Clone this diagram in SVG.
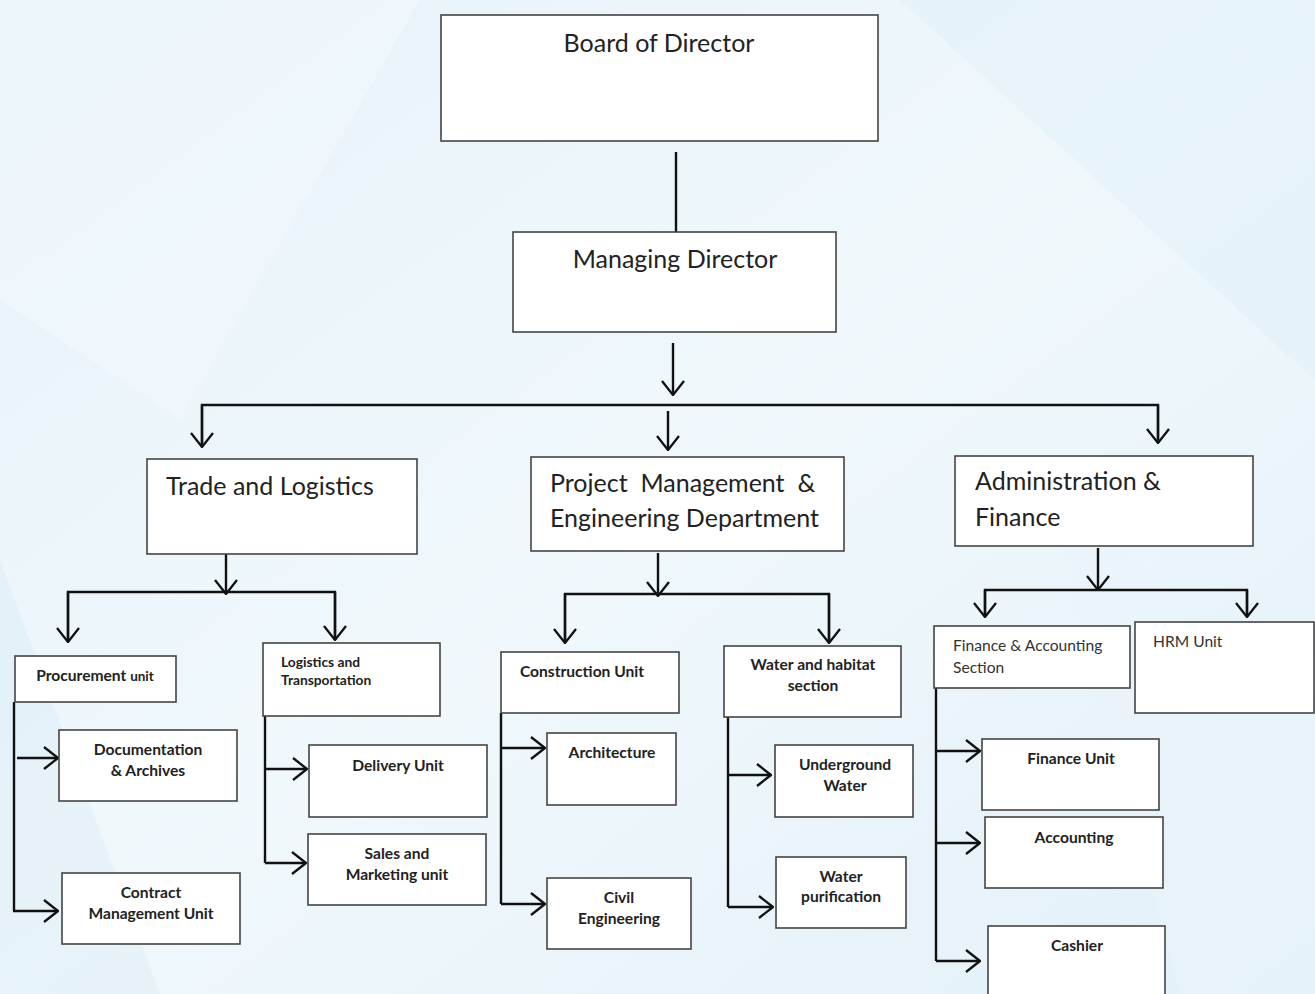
<svg xmlns="http://www.w3.org/2000/svg" width="1315" height="994" viewBox="0 0 1315 994">
<defs>
<linearGradient id="bg" x1="0" y1="0" x2="1" y2="1">
<stop offset="0" stop-color="#e6f2f9"/>
<stop offset="0.5" stop-color="#f0f8fc"/>
<stop offset="1" stop-color="#e3f0f8"/>
</linearGradient>
<marker id="ah" viewBox="0 0 16 24" refX="15" refY="12" markerWidth="16" markerHeight="24" markerUnits="userSpaceOnUse" orient="auto">
<path d="M1,1 L15,12 L1,23" fill="none" stroke="#111" stroke-width="2.3"/>
</marker>
<style>
.box{fill:#fff;stroke:#444;stroke-width:1.6}
.ln{fill:none;stroke:#111;stroke-width:2.4}
.ar{fill:none;stroke:#111;stroke-width:2.4;marker-end:url(#ah)}
.big{font-family:Lato,"Open Sans",sans-serif;font-size:25px;fill:#222}
.b{font-family:Lato,"Open Sans",sans-serif;font-size:15.6px;font-weight:bold;fill:#222;text-anchor:middle}
.bs{font-family:Lato,"Open Sans",sans-serif;font-size:13.8px;font-weight:bold;fill:#222}
.n{font-family:Lato,"Open Sans",sans-serif;font-size:15.6px;fill:#333}
</style>
</defs>
<rect width="1315" height="994" fill="url(#bg)"/>
<polygon points="0,0 420,0 180,420 0,300" fill="#f4fafd" opacity="0.5"/>
<polygon points="900,0 1315,0 1315,380" fill="#dcedf7" opacity="0.4"/>
<polygon points="0,560 160,994 0,994" fill="#d9ecf6" opacity="0.4"/>
<polygon points="1050,500 1315,700 1315,994 1180,994" fill="#eaf4f9" opacity="0.5"/>

<g id="connectors">
<line class="ln" x1="676" y1="152" x2="676" y2="232"/>
<line class="ar" x1="673" y1="343" x2="673" y2="395"/>
<polyline class="ln" points="202,447 202,405 1158,405 1158,443"/>
<line class="ar" x1="202" y1="405" x2="202" y2="447"/>
<line class="ar" x1="1158" y1="405" x2="1158" y2="443"/>
<line class="ar" x1="668" y1="411" x2="668" y2="450"/>

<line class="ar" x1="226" y1="554" x2="226" y2="594"/>
<polyline class="ln" points="68,642 68,592 335,592 335,640"/>
<line class="ar" x1="68" y1="592" x2="68" y2="642"/>
<line class="ar" x1="335" y1="592" x2="335" y2="640"/>
<polyline class="ln" points="14,702 14,911"/>
<line class="ar" x1="17" y1="758" x2="58" y2="758"/>
<line class="ar" x1="13" y1="911" x2="58" y2="911"/>
<polyline class="ln" points="265,716 265,863"/>
<line class="ar" x1="265" y1="769" x2="307" y2="769"/>
<line class="ar" x1="265" y1="863" x2="306" y2="863"/>

<line class="ar" x1="658" y1="553" x2="658" y2="596"/>
<polyline class="ln" points="565,643 565,594 829,594 829,643"/>
<line class="ar" x1="565" y1="594" x2="565" y2="643"/>
<line class="ar" x1="829" y1="594" x2="829" y2="643"/>
<polyline class="ln" points="501,713 501,904"/>
<line class="ar" x1="501" y1="748" x2="545" y2="748"/>
<line class="ar" x1="501" y1="904" x2="545" y2="904"/>
<polyline class="ln" points="728,717 728,907"/>
<line class="ar" x1="728" y1="775" x2="771" y2="775"/>
<line class="ar" x1="728" y1="907" x2="773" y2="907"/>

<line class="ar" x1="1098" y1="548" x2="1098" y2="590"/>
<polyline class="ln" points="985,617 985,590 1247,590 1247,617"/>
<line class="ar" x1="985" y1="590" x2="985" y2="617"/>
<line class="ar" x1="1247" y1="590" x2="1247" y2="617"/>
<polyline class="ln" points="936,688 936,961"/>
<line class="ar" x1="936" y1="751" x2="980" y2="751"/>
<line class="ar" x1="936" y1="843" x2="980" y2="843"/>
<line class="ar" x1="936" y1="961" x2="980" y2="961"/>
</g>

<g id="board"><rect class="box" x="441" y="15" width="437" height="126"/><text class="big" x="659" y="52" text-anchor="middle">Board of Director</text></g>
<g id="md"><rect class="box" x="513" y="232" width="323" height="100"/><text class="big" x="675" y="268" text-anchor="middle">Managing Director</text></g>

<g id="trade"><rect class="box" x="147" y="459" width="270" height="95"/><text class="big" x="166" y="495">Trade and Logistics</text></g>
<g id="pm"><rect class="box" x="531" y="457" width="313" height="94"/><text class="big" x="550" y="492" xml:space="preserve">Project  Management  &amp;</text><text class="big" x="550" y="527">Engineering Department</text></g>
<g id="af"><rect class="box" x="955" y="456" width="298" height="90"/><text class="big" x="975" y="490">Administration &amp;</text><text class="big" x="975" y="526">Finance</text></g>

<g id="procurement"><rect class="box" x="15" y="656" width="161" height="46"/><text class="b" x="95" y="681">Procurement <tspan font-size="13.5px">unit</tspan></text></g>
<g id="documentation"><rect class="box" x="59" y="730" width="178" height="71"/><text class="b" x="148" y="755">Documentation</text><text class="b" x="148" y="776">&amp; Archives</text></g>
<g id="contract"><rect class="box" x="62" y="873" width="178" height="71"/><text class="b" x="151" y="898">Contract</text><text class="b" x="151" y="919">Management Unit</text></g>

<g id="logistics"><rect class="box" x="263" y="643" width="177" height="73"/><text class="bs" x="281" y="667">Logistics and</text><text class="bs" x="281" y="685">Transportation</text></g>
<g id="delivery"><rect class="box" x="309" y="745" width="178" height="72"/><text class="b" x="398" y="771">Delivery Unit</text></g>
<g id="sales"><rect class="box" x="308" y="834" width="178" height="71"/><text class="b" x="397" y="859">Sales and</text><text class="b" x="397" y="880">Marketing unit</text></g>

<g id="construction"><rect class="box" x="501" y="652" width="178" height="61"/><text class="b" x="582" y="677">Construction Unit</text></g>
<g id="architecture"><rect class="box" x="547" y="733" width="129" height="72"/><text class="b" x="612" y="758">Architecture</text></g>
<g id="civil"><rect class="box" x="547" y="878" width="144" height="71"/><text class="b" x="619" y="903">Civil</text><text class="b" x="619" y="924">Engineering</text></g>
<g id="water"><rect class="box" x="724" y="646" width="177" height="71"/><text class="b" x="813" y="670">Water and habitat</text><text class="b" x="813" y="691">section</text></g>
<g id="underground"><rect class="box" x="775" y="745" width="138" height="72"/><text class="b" x="845" y="770">Underground</text><text class="b" x="845" y="791">Water</text></g>
<g id="purification"><rect class="box" x="776" y="857" width="130" height="71"/><text class="b" x="841" y="882">Water</text><text class="b" x="841" y="902">purification</text></g>

<g id="finacc"><rect class="box" x="934" y="626" width="196" height="62"/><text class="n" x="953" y="651">Finance &amp; Accounting</text><text class="n" x="953" y="673">Section</text></g>
<g id="hrm"><rect class="box" x="1135" y="622" width="179" height="91"/><text class="n" x="1153" y="647">HRM Unit</text></g>
<g id="finunit"><rect class="box" x="982" y="739" width="177" height="71"/><text class="b" x="1071" y="764">Finance Unit</text></g>
<g id="accounting"><rect class="box" x="985" y="817" width="178" height="71"/><text class="b" x="1074" y="843">Accounting</text></g>
<g id="cashier"><rect class="box" x="988" y="926" width="177" height="80"/><text class="b" x="1077" y="951">Cashier</text></g>
</svg>
